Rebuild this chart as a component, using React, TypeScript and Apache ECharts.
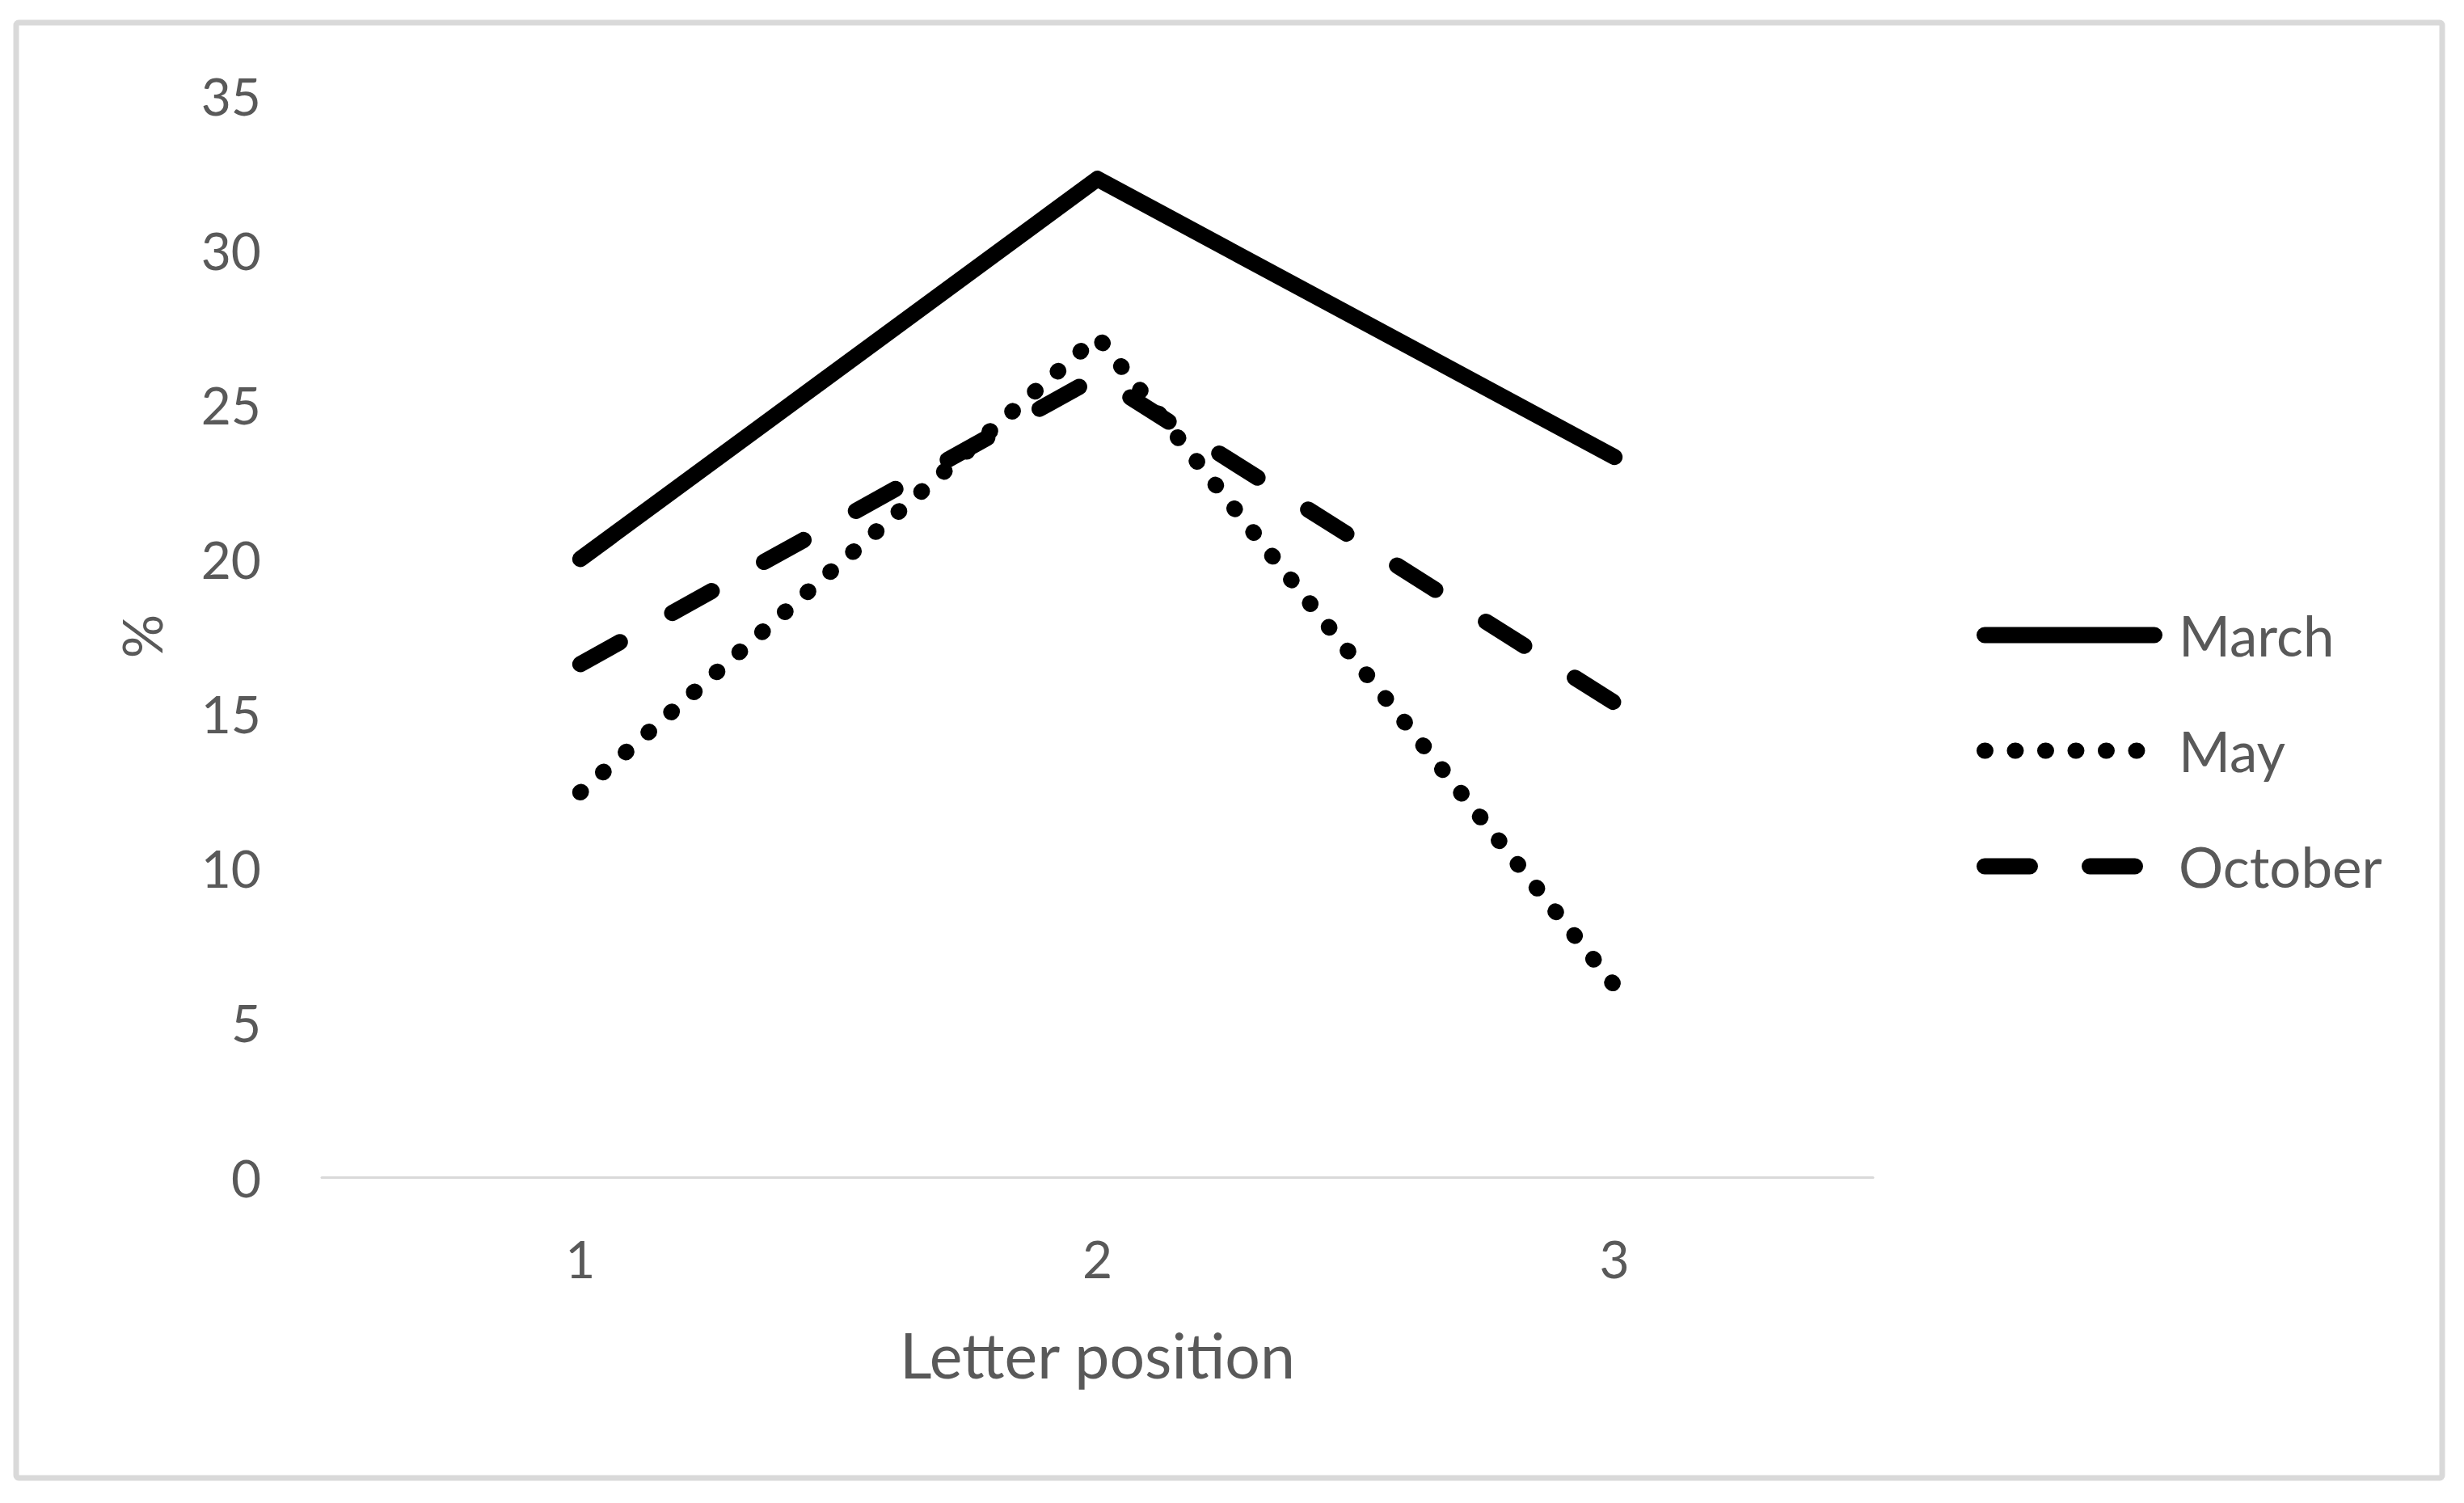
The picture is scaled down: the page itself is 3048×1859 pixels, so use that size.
import React, { useEffect, useRef } from "react";
import * as echarts from "echarts";

const categories = ["1", "2", "3"];
const marchValues = [20.0, 32.3, 23.3];
const mayValues = [12.45, 27.2, 6.2];
const octoberValues = [16.6, 25.9, 15.35];
const seriesNames = ["March", "May", "October"];

const FONT = "Lato, 'Open Sans', sans-serif";
const TEXT = "#595959";

export default function App() {
  const ref = useRef<HTMLDivElement>(null);
  useEffect(() => {
    if (!ref.current) return;
    const chart = echarts.init(ref.current, null, { renderer: "svg" });
    const lw = 20;
    const mk = (name: string, data: number[], type: any) => ({
      name,
      type: "line",
      data,
      symbol: "none",
      lineStyle: { color: "#000", width: lw, type, cap: "round", join: "round" },
      itemStyle: { color: "#000" },
    });
    chart.setOption({
      animation: false,
      backgroundColor: "#fff",
      textStyle: { fontFamily: FONT },
      graphic: [
        {
          type: "rect",
          shape: { x: 20, y: 28, width: 3001, height: 1800, r: 3 },
          style: { fill: "none", stroke: "#d9d9d9", lineWidth: 7 },
          z: -1,
        },
      ],
      grid: { left: 398, right: 731, top: 118, bottom: 403 },
      legend: {
        orient: "vertical",
        left: 2440,
        top: 746,
        itemWidth: 210,
        itemHeight: 20,
        itemGap: 74,
        data: seriesNames,
        itemStyle: { color: "rgba(0,0,0,0)", borderColor: "rgba(0,0,0,0)", borderWidth: 0 },
        lineStyle: { width: lw, cap: "round" },
        textStyle: { fontSize: 69, color: TEXT, fontFamily: FONT, lineHeight: 66, padding: [0, 0, 0, 25] },
      },
      xAxis: {
        type: "category",
        data: categories,
        boundaryGap: true,
        axisLine: { lineStyle: { color: "#d9d9d9", width: 3 } },
        axisTick: { show: false },
        axisLabel: { fontSize: 64, color: TEXT, margin: 68, fontFamily: FONT },
        name: "Letter position",
        nameLocation: "middle",
        nameGap: 180,
        nameTextStyle: { fontSize: 77, color: TEXT, fontFamily: FONT },
      },
      yAxis: {
        type: "value",
        min: 0,
        max: 35,
        interval: 5,
        axisLine: { show: false },
        axisTick: { show: false },
        splitLine: { show: false },
        axisLabel: { fontSize: 64, color: TEXT, margin: 75, fontFamily: FONT },
        name: "%",
        nameLocation: "middle",
        nameGap: 190,
        nameRotate: 90,
        nameTextStyle: { fontSize: 68, color: TEXT, fontFamily: FONT },
      },
      series: [
        mk(seriesNames[0], marchValues, "solid"),
        mk(seriesNames[1], mayValues, [1, 36.49]),
        mk(seriesNames[2], octoberValues, [56, 74]),
      ],
    });
    return () => chart.dispose();
  }, []);
  return (
    <div
      ref={ref}
      style={{ position: "absolute", left: 0, top: 0, width: 3048, height: 1859 }}
    />
  );
}
